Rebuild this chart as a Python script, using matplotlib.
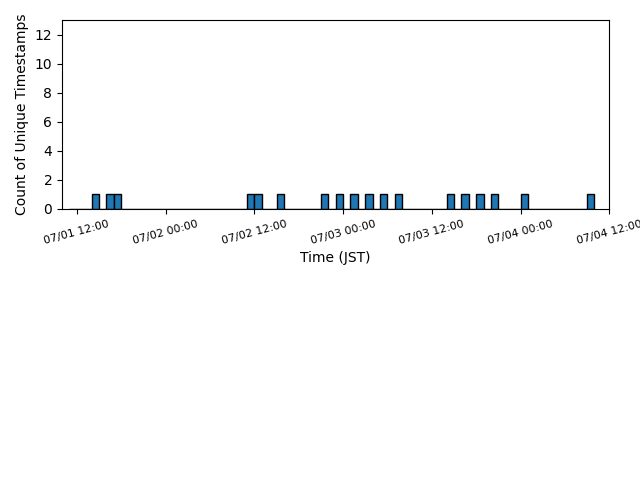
import pandas as pd
import matplotlib
matplotlib.use("Agg")
import matplotlib.pyplot as plt
import matplotlib.dates as mdates

# unique timestamps (JST), one per hourly bin
timestamps = [
    "2024-07-01 14:20", "2024-07-01 16:20", "2024-07-01 17:20",
    "2024-07-02 11:20", "2024-07-02 12:20", "2024-07-02 15:20",
    "2024-07-02 21:20", "2024-07-02 23:20", "2024-07-03 01:20",
    "2024-07-03 03:20", "2024-07-03 05:20", "2024-07-03 07:20",
    "2024-07-03 14:20", "2024-07-03 16:20", "2024-07-03 18:20",
    "2024-07-03 20:20", "2024-07-04 00:20", "2024-07-04 09:20",
]
bin_start = "2024-07-01 11:00"
bin_end = "2024-07-04 10:00"
x_min = "2024-07-01 10:00"
x_max = "2024-07-04 12:00"

times = pd.to_datetime(timestamps)
bins = pd.date_range(bin_start, bin_end, freq="h")

fig = plt.figure(figsize=(6.4, 4.8), dpi=100)
ax = fig.add_axes([0.097, 0.565, 0.855, 0.393])

ax.hist(mdates.date2num(times), bins=mdates.date2num(bins),
        color="C0", edgecolor="black")

ax.set_xlim(mdates.date2num(pd.Timestamp(x_min)), mdates.date2num(pd.Timestamp(x_max)))
ax.set_ylim(0, 13)
ax.set_yticks(range(0, 13, 2))
ax.xaxis.set_major_locator(mdates.HourLocator(byhour=[0, 12]))
ax.xaxis.set_major_formatter(mdates.DateFormatter("%m/%d %H:%M"))
plt.setp(ax.get_xticklabels(), rotation=15, fontsize=8)

ax.set_xlabel("Time (JST)")
ax.set_ylabel("Count of Unique Timestamps")

fig.savefig("out.png", dpi=100)
